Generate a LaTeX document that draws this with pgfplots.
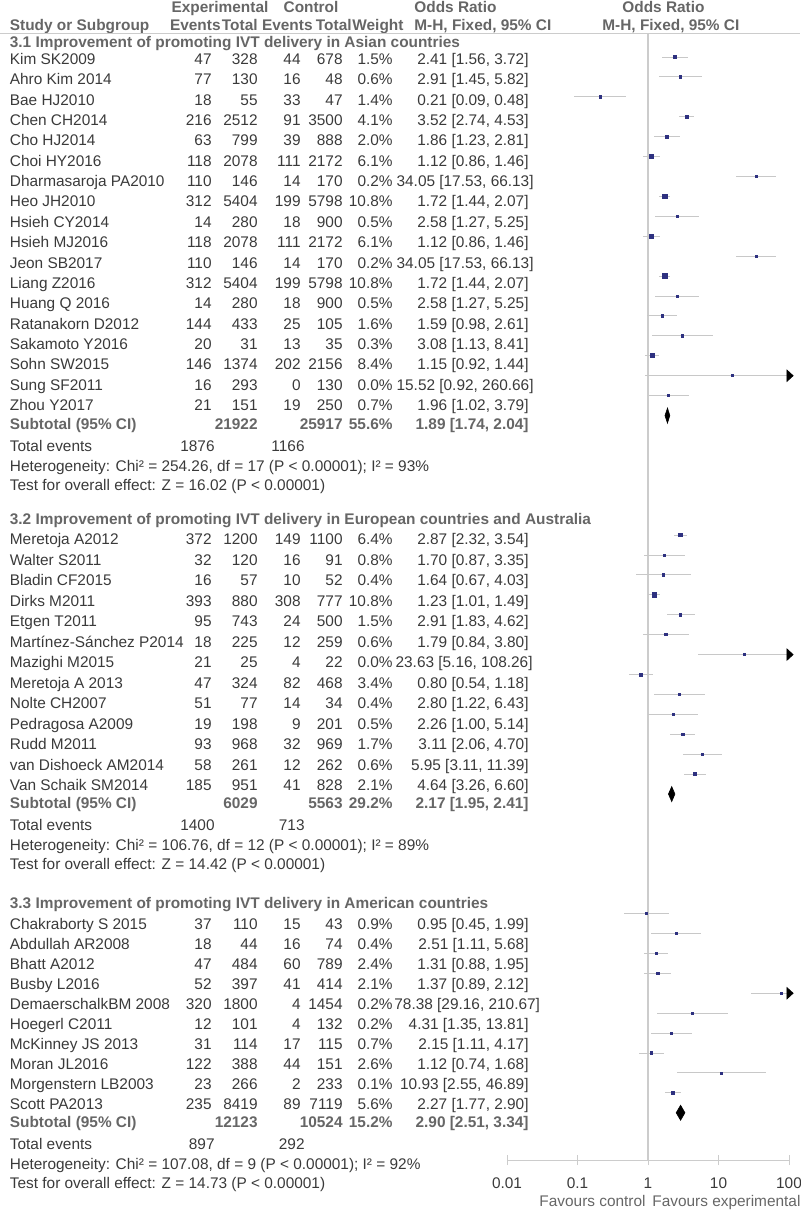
\documentclass[border=0pt]{standalone}
\usepackage{fontspec}
\setmainfont{Liberation Sans}
\usepackage{pgfplots}
\usepackage{pgfplotstable}
\pgfplotsset{compat=1.18}

\definecolor{txtc}{HTML}{3A3A3A}
\definecolor{hdrc}{HTML}{666666}
\definecolor{boxc}{HTML}{2E3180}
\definecolor{cic}{HTML}{C8C8C8}
\definecolor{linec}{HTML}{CCCCCC}

% k = row of the study in the forest plot, w = weight (%), or [lo, hi]
\pgfplotstableread{
k  w    or     lo     hi
1  1.5  2.41   1.56   3.72
2  0.6  2.91   1.45   5.82
3  1.4  0.21   0.09   0.48
4  4.1  3.52   2.74   4.53
5  2.0  1.86   1.23   2.81
6  6.1  1.12   0.86   1.46
7  0.2  34.05  17.53  66.13
8  10.8 1.72   1.44   2.07
9  0.5  2.58   1.27   5.25
10 6.1  1.12   0.86   1.46
11 0.2  34.05  17.53  66.13
12 10.8 1.72   1.44   2.07
13 0.5  2.58   1.27   5.25
14 1.6  1.59   0.98   2.61
15 0.3  3.08   1.13   8.41
16 8.4  1.15   0.92   1.44
17 0.0  15.52  0.92   260.66
18 0.7  1.96   1.02   3.79
25 6.4  2.87   2.32   3.54
26 0.8  1.70   0.87   3.35
27 0.4  1.64   0.67   4.03
28 10.8 1.23   1.01   1.49
29 1.5  2.91   1.83   4.62
30 0.6  1.79   0.84   3.80
31 0.0  23.63  5.16   108.26
32 3.4  0.80   0.54   1.18
33 0.4  2.80   1.22   6.43
34 0.5  2.26   1.00   5.14
35 1.7  3.11   2.06   4.70
36 0.6  5.95   3.11   11.39
37 2.1  4.64   3.26   6.60
44 0.9  0.95   0.45   1.99
45 0.4  2.51   1.11   5.68
46 2.4  1.31   0.88   1.95
47 2.1  1.37   0.89   2.12
48 0.2  78.38  29.16  210.67
49 0.2  4.31   1.35   13.81
50 0.7  2.15   1.11   4.17
51 2.6  1.12   0.74   1.68
52 0.1  10.93  2.55   46.89
53 5.6  2.27   1.77   2.90
}\studies

\newcommand\fs{\fontsize{7.7}{9}\selectfont}
\tikzset{
  txt/.style={font=\fs, text=txtc, inner sep=0pt},
  hd/.style={font=\fs\bfseries, text=hdrc, inner sep=0pt},
}
% text rows of a group: first row k, its centre y (px), row pitch (px)
\newcommand\setsec[3]{\def\seck{#1}\def\secy{#2}\def\secp{#3}}
\def\orx{529}

\newcommand\study[8]{%
  \pgfmathsetmacro\yb{\secy+\secp*(#1-\seck)+5.5}%
  \node[txt,anchor=base west] at (9.5,\yb) {#2};
  \node[txt,anchor=base east] at (212,\yb) {#3};
  \node[txt,anchor=base east] at (258,\yb) {#4};
  \node[txt,anchor=base east] at (301,\yb) {#5};
  \node[txt,anchor=base east] at (343,\yb) {#6};
  \node[txt,anchor=base east] at (393,\yb) {#7\%};
  \node[txt,anchor=base east] at (\orx,\yb) {#8};
}
\newcommand\grouphead[2]{%
  \node[hd,anchor=base west] at (9.5,#1+5.5) {#2};
}
\newcommand\subtot[5]{%
  \node[hd,anchor=base west] at (9.5,#1+5.5) {Subtotal (95\% CI)};
  \node[hd,anchor=base east] at (258,#1+5.5) {#2};
  \node[hd,anchor=base east] at (343,#1+5.5) {#3};
  \node[hd,anchor=base east] at (393,#1+5.5) {#4\%};
  \node[hd,anchor=base east] at (529,#1+5.5) {#5};
}
% #1 centre y of the "Total events" row; the next two rows follow
\newcommand\foot[5]{%
  \node[txt,anchor=base west] at (9.5,#1+5.5) {Total events};
  \node[txt,anchor=base east] at (215,#1+5.5) {#2};
  \node[txt,anchor=base east] at (305,#1+5.5) {#3};
  \node[txt,anchor=base west] at (9.5,#1+25) {Heterogeneity: Chi² = #4};
  \node[txt,anchor=base west] at (9.5,#1+44.5) {Test for overall effect: Z = #5};
}

\begin{document}
\begin{tikzpicture}
\path[use as bounding box] (0,0) rectangle (400pt,-605pt);

\begin{scope}[x=0.5pt,y=-0.5pt]
% column headers
\node[hd,anchor=base] at (220,12.5) {Experimental};
\node[hd,anchor=base] at (311,12.5) {Control};
\node[hd,anchor=base west] at (414,12.5) {Odds Ratio};
\node[hd,anchor=base west] at (622,12.5) {Odds Ratio};
\node[hd,anchor=base west] at (9.5,30.5) {Study or Subgroup};
\node[hd,anchor=base east] at (221,30.5) {Events};
\node[hd,anchor=base east] at (258,30.5) {Total};
\node[hd,anchor=base east] at (313,30.5) {Events};
\node[hd,anchor=base east] at (352,30.5) {Total};
\node[hd,anchor=base west] at (352,30.5) {Weight};
\node[hd,anchor=base west] at (414,30.5) {M-H, Fixed, 95\% CI};
\node[hd,anchor=base west] at (602,30.5) {M-H, Fixed, 95\% CI};
\draw[linec, line width=0.5pt] (0,33) -- (800,33);

\grouphead{42}{3.1 Improvement of promoting IVT delivery in Asian countries}
\setsec{1}{59}{20.35}
\study{1}{Kim SK2009}{47}{328}{44}{678}{1.5}{2.41 [1.56, 3.72]}
\study{2}{Ahro Kim 2014}{77}{130}{16}{48}{0.6}{2.91 [1.45, 5.82]}
\study{3}{Bae HJ2010}{18}{55}{33}{47}{1.4}{0.21 [0.09, 0.48]}
\study{4}{Chen CH2014}{216}{2512}{91}{3500}{4.1}{3.52 [2.74, 4.53]}
\study{5}{Cho HJ2014}{63}{799}{39}{888}{2.0}{1.86 [1.23, 2.81]}
\study{6}{Choi HY2016}{118}{2078}{111}{2172}{6.1}{1.12 [0.86, 1.46]}
\def\orx{534}
\study{7}{Dharmasaroja PA2010}{110}{146}{14}{170}{0.2}{34.05 [17.53, 66.13]}
\def\orx{529}
\study{8}{Heo JH2010}{312}{5404}{199}{5798}{10.8}{1.72 [1.44, 2.07]}
\study{9}{Hsieh CY2014}{14}{280}{18}{900}{0.5}{2.58 [1.27, 5.25]}
\study{10}{Hsieh MJ2016}{118}{2078}{111}{2172}{6.1}{1.12 [0.86, 1.46]}
\def\orx{534}
\study{11}{Jeon SB2017}{110}{146}{14}{170}{0.2}{34.05 [17.53, 66.13]}
\def\orx{529}
\study{12}{Liang Z2016}{312}{5404}{199}{5798}{10.8}{1.72 [1.44, 2.07]}
\study{13}{Huang Q 2016}{14}{280}{18}{900}{0.5}{2.58 [1.27, 5.25]}
\study{14}{Ratanakorn D2012}{144}{433}{25}{105}{1.6}{1.59 [0.98, 2.61]}
\study{15}{Sakamoto Y2016}{20}{31}{13}{35}{0.3}{3.08 [1.13, 8.41]}
\study{16}{Sohn SW2015}{146}{1374}{202}{2156}{8.4}{1.15 [0.92, 1.44]}
\def\orx{534}
\study{17}{Sung SF2011}{16}{293}{0}{130}{0.0}{15.52 [0.92, 260.66]}
\def\orx{529}
\study{18}{Zhou Y2017}{21}{151}{19}{250}{0.7}{1.96 [1.02, 3.79]}
\subtot{424}{21922}{25917}{55.6}{1.89 [1.74, 2.04]}
\foot{446}{1876}{1166}{254.26, df = 17 (P < 0.00001); I² = 93\%}{16.02 (P < 0.00001)}

\grouphead{519}{3.2 Improvement of promoting IVT delivery in European countries and Australia}
\setsec{25}{539}{20.5}
\study{25}{Meretoja A2012}{372}{1200}{149}{1100}{6.4}{2.87 [2.32, 3.54]}
\study{26}{Walter S2011}{32}{120}{16}{91}{0.8}{1.70 [0.87, 3.35]}
\study{27}{Bladin CF2015}{16}{57}{10}{52}{0.4}{1.64 [0.67, 4.03]}
\study{28}{Dirks M2011}{393}{880}{308}{777}{10.8}{1.23 [1.01, 1.49]}
\study{29}{Etgen T2011}{95}{743}{24}{500}{1.5}{2.91 [1.83, 4.62]}
\study{30}{Martínez-Sánchez P2014}{18}{225}{12}{259}{0.6}{1.79 [0.84, 3.80]}
\def\orx{533}
\study{31}{Mazighi M2015}{21}{25}{4}{22}{0.0}{23.63 [5.16, 108.26]}
\def\orx{529}
\study{32}{Meretoja A 2013}{47}{324}{82}{468}{3.4}{0.80 [0.54, 1.18]}
\study{33}{Nolte CH2007}{51}{77}{14}{34}{0.4}{2.80 [1.22, 6.43]}
\study{34}{Pedragosa A2009}{19}{198}{9}{201}{0.5}{2.26 [1.00, 5.14]}
\study{35}{Rudd M2011}{93}{968}{32}{969}{1.7}{3.11 [2.06, 4.70]}
\study{36}{van Dishoeck AM2014}{58}{261}{12}{262}{0.6}{5.95 [3.11, 11.39]}
\study{37}{Van Schaik SM2014}{185}{951}{41}{828}{2.1}{4.64 [3.26, 6.60]}
\subtot{803}{6029}{5563}{29.2}{2.17 [1.95, 2.41]}
\foot{825}{1400}{713}{106.76, df = 12 (P < 0.00001); I² = 89\%}{14.42 (P < 0.00001)}

\grouphead{903}{3.3 Improvement of promoting IVT delivery in American countries}
\setsec{44}{924}{20}
\study{44}{Chakraborty S 2015}{37}{110}{15}{43}{0.9}{0.95 [0.45, 1.99]}
\study{45}{Abdullah AR2008}{18}{44}{16}{74}{0.4}{2.51 [1.11, 5.68]}
\study{46}{Bhatt A2012}{47}{484}{60}{789}{2.4}{1.31 [0.88, 1.95]}
\study{47}{Busby L2016}{52}{397}{41}{414}{2.1}{1.37 [0.89, 2.12]}
\study{48}{DemaerschalkBM 2008}{320}{1800}{4}{1454}{0.2}{}
\node[txt,anchor=base west] at (394,\yb) {78.38 [29.16, 210.67]};
\study{49}{Hoegerl C2011}{12}{101}{4}{132}{0.2}{4.31 [1.35, 13.81]}
\study{50}{McKinney JS 2013}{31}{114}{17}{115}{0.7}{2.15 [1.11, 4.17]}
\study{51}{Moran JL2016}{122}{388}{44}{151}{2.6}{1.12 [0.74, 1.68]}
\study{52}{Morgenstern LB2003}{23}{266}{2}{233}{0.1}{10.93 [2.55, 46.89]}
\study{53}{Scott PA2013}{235}{8419}{89}{7119}{5.6}{2.27 [1.77, 2.90]}
\subtot{1122}{12123}{10524}{15.2}{2.90 [2.51, 3.34]}
\foot{1144}{897}{292}{107.08, df = 9 (P < 0.00001); I² = 92\%}{14.73 (P < 0.00001)}

\node[txt,anchor=base east,text=hdrc] at (646,1206.5) {Favours control};
\node[txt,anchor=base west,text=hdrc] at (652,1206.5) {Favours experimental};
\end{scope}

\begin{axis}[
  at={(253.5pt,-580pt)}, anchor=south west,
  scale only axis, width=141pt, height=563.5pt,
  xmode=log, xmin=0.01, xmax=100,
  ymin=-56.372, ymax=0.2048,
  axis x line=bottom, axis y line=none,
  x axis line style={-, draw=linec, line width=0.5pt},
  xtick={0.01,0.1,1,10,100},
  xticklabels={0.01,0.1,1,10,100},
  xminorticks=false,
  tick align=center, major tick length=5pt,
  tick style={draw=linec, line width=0.5pt},
  xticklabel style={font=\fs, text=txtc, anchor=base, yshift=-11.75pt},
]
% line of no effect
\addplot[draw=linec, line width=0.75pt] coordinates {(1,-56.372) (1,0.2048)};
% confidence intervals
\addplot[draw=none, mark=none,
  error bars/.cd, x dir=both, x explicit, error mark=none,
  error bar style={draw=cic, line width=0.5pt}]
  table[x=or, y expr=-\thisrow{k},
        x error minus expr=\thisrow{or}-\thisrow{lo},
        x error plus expr=\thisrow{hi}-\thisrow{or}] {\studies};
% study boxes, size by weight
\addplot[scatter, only marks, mark=square*,
  scatter/use mapped color={draw=boxc, fill=boxc},
  visualization depends on={0.5+0.0625*\thisrow{w} \as \msize},
  scatter/@pre marker code/.append style={/tikz/mark size=\msize}]
  table[x=or, y expr=-\thisrow{k}] {\studies};
% intervals running past 100
\addplot[only marks, mark=triangle*, mark size=3.2pt,
  mark options={rotate=-90, yscale=0.63, fill=black, draw=black}]
  coordinates {(100,-17) (100,-31) (100,-48)};
% subtotal diamonds
\addplot[fill=black, draw=black, line width=0.3pt]
  coordinates {(1.74,-19) (1.89,-18.6235) (2.04,-19) (1.89,-19.3765)} -- cycle;
\addplot[fill=black, draw=black, line width=0.3pt]
  coordinates {(1.95,-38) (2.17,-37.6235) (2.41,-38) (2.17,-38.3765)} -- cycle;
\addplot[fill=black, draw=black, line width=0.3pt]
  coordinates {(2.51,-54) (2.90,-53.6235) (3.34,-54) (2.90,-54.3765)} -- cycle;
\end{axis}
\end{tikzpicture}
\end{document}
